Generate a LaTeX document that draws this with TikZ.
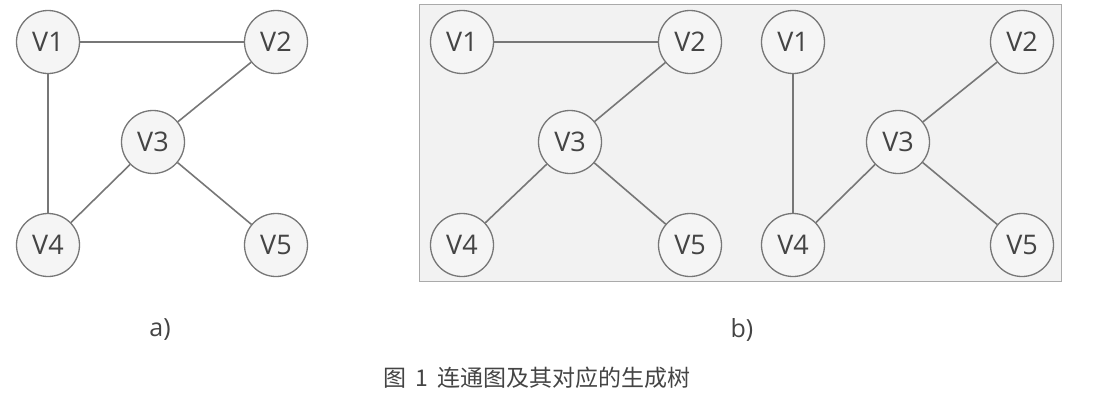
\documentclass[tikz,border=0pt]{standalone}
\usepackage{fontspec}
\setmainfont{Open Sans}
\newfontfamily\cjk{Noto Sans CJK SC}
\definecolor{edgec}{HTML}{777777}
\definecolor{nodefill}{HTML}{F5F5F5}
\definecolor{boxfill}{HTML}{F2F2F2}
\definecolor{boxline}{HTML}{AAAAAA}
\definecolor{txt}{HTML}{444444}
\begin{document}
\begin{tikzpicture}[x=1pt,y=-1pt,
  vtx/.style={circle,draw=edgec,fill=nodefill,line width=1.3pt,minimum size=63pt,inner sep=0pt,text=txt,font=\fontsize{27}{32}\selectfont},
  edge/.style={draw=edgec,line width=1.6pt},
  lbl/.style={text=txt,font=\fontsize{25}{30}\selectfont}]
\useasboundingbox (0,0) rectangle (1093,408);
% box
\node[draw=boxline,fill=boxfill,line width=1.2pt,minimum width=642pt,minimum height=277pt,inner sep=0pt] (box) at (740.5,143) {};
% a)
\node[vtx] (a1) at (48,42) {V1};
\node[vtx] (a2) at (276,42) {V2};
\node[vtx] (a3) at (153,142) {V3};
\node[vtx] (a4) at (48,245) {V4};
\node[vtx] (a5) at (276,245) {V5};
\draw[edge] (a1) -- (a2);
\draw[edge] (a1) -- (a4);
\draw[edge] (a2) -- (a3);
\draw[edge] (a3) -- (a4);
\draw[edge] (a3) -- (a5);
% b) left tree
\node[vtx] (b1) at (462,42) {V1};
\node[vtx] (b2) at (690,42) {V2};
\node[vtx] (b3) at (570,142) {V3};
\node[vtx] (b4) at (462,245) {V4};
\node[vtx] (b5) at (690,245) {V5};
\draw[edge] (b1) -- (b2);
\draw[edge] (b2) -- (b3);
\draw[edge] (b3) -- (b4);
\draw[edge] (b3) -- (b5);
% b) right tree
\node[vtx] (c1) at (793,42) {V1};
\node[vtx] (c2) at (1022,42) {V2};
\node[vtx] (c3) at (898,142) {V3};
\node[vtx] (c4) at (793,245) {V4};
\node[vtx] (c5) at (1022,245) {V5};
\draw[edge] (c1) -- (c4);
\draw[edge] (c2) -- (c3);
\draw[edge] (c3) -- (c4);
\draw[edge] (c3) -- (c5);
% labels
\node[lbl] (la) at (160,330) {a)};
\node[lbl] (lb) at (742,330) {b)};
\node[text=txt,font=\cjk\fontsize{23}{28}\selectfont] (cap) at (537,378) {图\hspace{9pt}1\hspace{9pt}连通图及其对应的生成树};
\end{tikzpicture}
\end{document}
